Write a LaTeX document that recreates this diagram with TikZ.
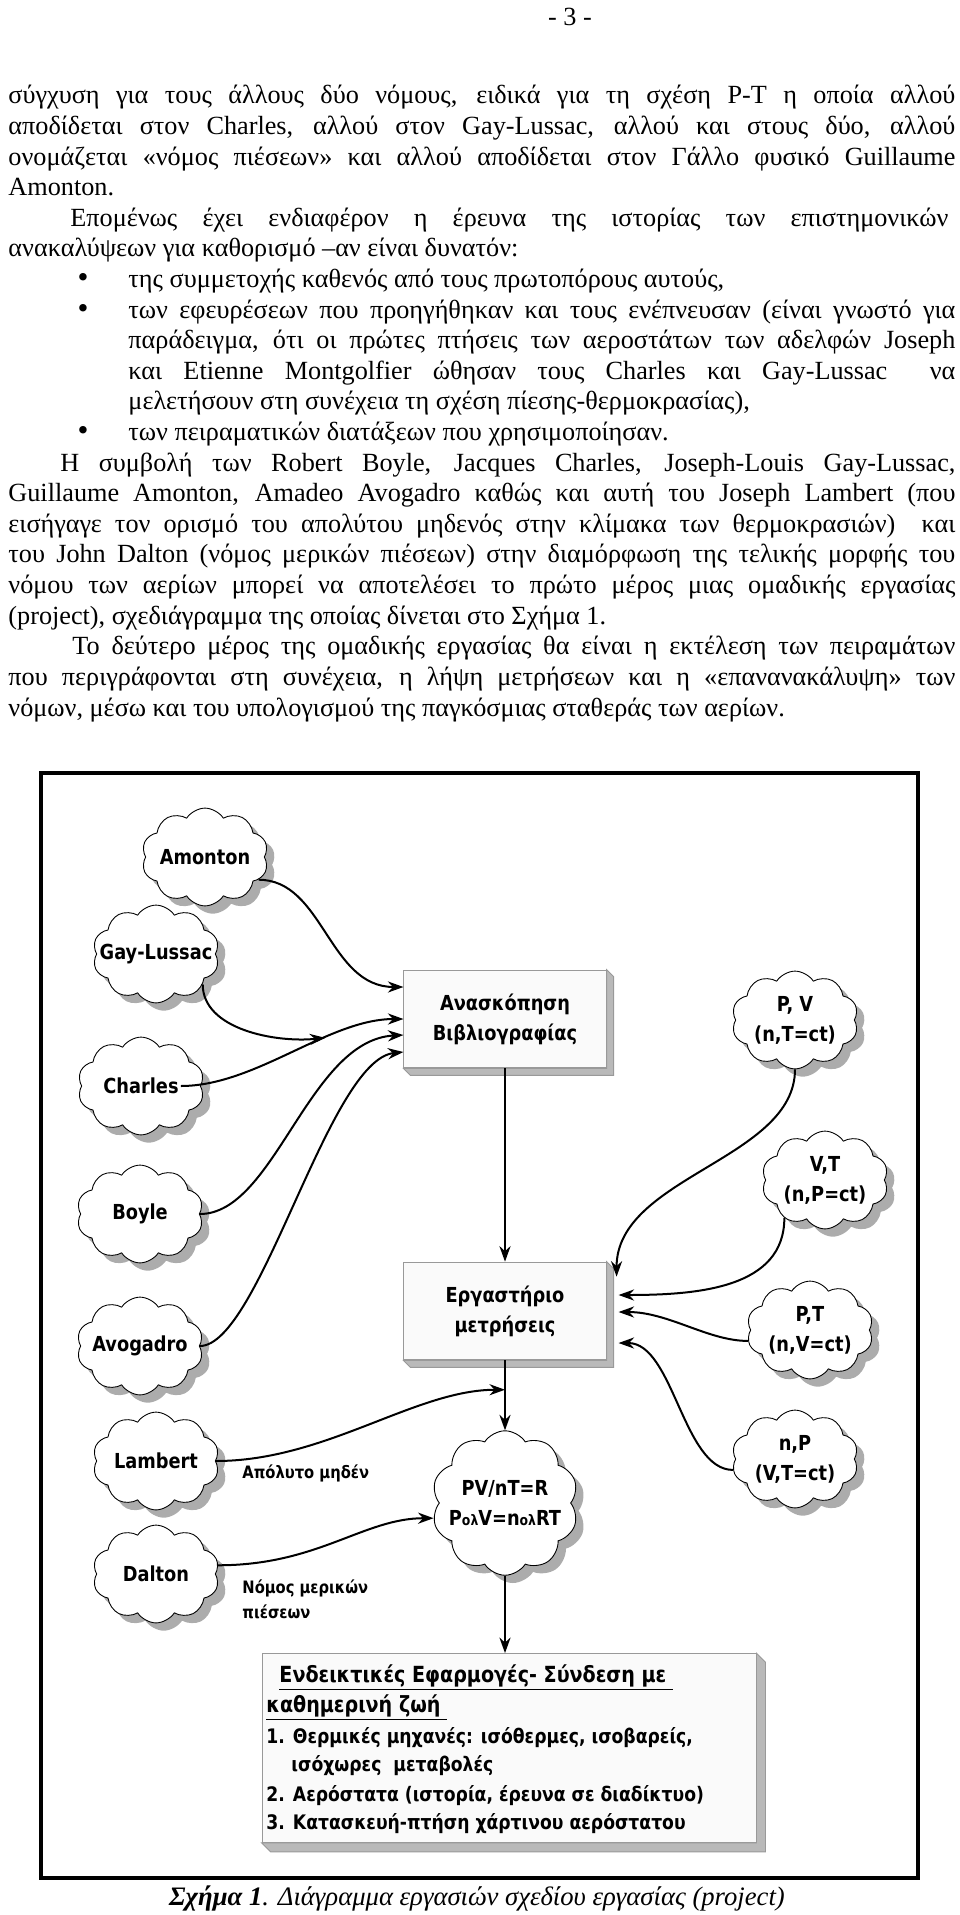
\documentclass[tikz,border=0pt]{standalone}
\usepackage{fontspec}
\setmainfont{Liberation Serif}
\newfontfamily\diagfont[FakeStretch=0.86]{DejaVu Sans}
\usetikzlibrary{shapes.symbols,shadows,calc,arrows.meta}
\newcommand\olsub{{\fontsize{6.5}{8}\selectfont ολ}}

\tikzset{
  txt/.style={anchor=base west,inner sep=0pt,font=\fontsize{11.8}{13}\selectfont},
  dot/.style={anchor=base,inner sep=0pt,font=\fontsize{14}{14}\selectfont},
  tag/.style={font=\diagfont\bfseries\fontsize{9.3}{13.5}\selectfont,align=center},
  item/.style={anchor=base west,inner sep=0pt,font=\diagfont\bfseries\fontsize{9}{12}\selectfont},
  head/.style={item,font=\diagfont\bfseries\fontsize{10}{12}\selectfont},
  small/.style={anchor=base west,inner sep=0pt,font=\diagfont\bfseries\fontsize{7.7}{11}\selectfont},
  puff/.style={cloud,cloud puffs=10,cloud puff arc=115,cloud ignores aspect,draw,fill=white,
    minimum width=57pt,minimum height=44pt,inner sep=0pt,
    drop shadow={shadow xshift=3.5pt,shadow yshift=-3.5pt,fill=gray!65,opacity=1}},
  panel/.style={draw=gray!80,fill=gray!4,minimum width=91pt,minimum height=44pt,inner sep=0pt,tag},
  link/.style={->,line width=0.9pt}
}

\begin{document}
\begin{tikzpicture}[x=0.45pt,y=-0.45pt,>={Stealth[length=7pt,width=5pt]}]
\useasboundingbox (0,0) rectangle (960,1915);

\node[font=\fontsize{11.8}{13}\selectfont] (page) at (570,17) {- 3 -};

\node[txt] (t1) at (8,104) {\makebox[426.15pt][s]{σύγχυση για τους άλλους δύο νόμους, ειδικά για τη σχέση P-T η οποία αλλού}};
\node[txt] (t2) at (8,134.6) {\makebox[426.15pt][s]{αποδίδεται στον Charles, αλλού στον Gay-Lussac, αλλού και στους δύο, αλλού}};
\node[txt] (t3) at (8,165.2) {\makebox[426.15pt][s]{ονομάζεται «νόμος πιέσεων» και αλλού αποδίδεται στον Γάλλο φυσικό Guillaume}};
\node[txt] (t4) at (8,195.8) {Amonton.};
\node[txt] (t5) at (70,226.4) {\makebox[395.1pt][s]{Επομένως έχει ενδιαφέρον η έρευνα της ιστορίας των επιστημονικών}};
\node[txt] (t6) at (8,257) {ανακαλύψεων για καθορισμό –αν είναι δυνατόν:};
\node[dot] (b1) at (83,287.6) {•};
\node[txt] (t7) at (128,287.6) {της συμμετοχής καθενός από τους πρωτοπόρους αυτούς,};
\node[dot] (b2) at (83,318.2) {•};
\node[txt] (t8) at (128,318.2) {\makebox[372.15pt][s]{των εφευρέσεων που προηγήθηκαν και τους ενέπνευσαν (είναι γνωστό για}};
\node[txt] (t9) at (128,348.8) {\makebox[372.15pt][s]{παράδειγμα, ότι οι πρώτες πτήσεις των αεροστάτων των αδελφών Joseph}};
\node[txt] (t10) at (128,379.4) {\makebox[372.15pt][s]{και Etienne Montgolfier ώθησαν τους Charles και Gay-Lussac \ να}};
\node[txt] (t11) at (128,410) {μελετήσουν στη συνέχεια τη σχέση πίεσης-θερμοκρασίας),};
\node[dot] (b3) at (83,440.6) {•};
\node[txt] (t12) at (128,440.6) {των πειραματικών διατάξεων που χρησιμοποίησαν.};
\node[txt] (t13) at (60,471.2) {\makebox[402.75pt][s]{Η συμβολή των Robert Boyle, Jacques Charles, Joseph-Louis Gay-Lussac,}};
\node[txt] (t14) at (8,501.8) {\makebox[426.15pt][s]{Guillaume Amonton, Amadeo Avogadro καθώς και αυτή του Joseph Lambert (που}};
\node[txt] (t15) at (8,532.4) {\makebox[426.15pt][s]{εισήγαγε τον ορισμό του απολύτου μηδενός στην κλίμακα των θερμοκρασιών) \ και}};
\node[txt] (t16) at (8,563) {\makebox[426.15pt][s]{του John Dalton (νόμος μερικών πιέσεων) στην διαμόρφωση της τελικής μορφής του}};
\node[txt] (t17) at (8,593.6) {\makebox[426.15pt][s]{νόμου των αερίων μπορεί να αποτελέσει το πρώτο μέρος μιας ομαδικής εργασίας}};
\node[txt] (t18) at (8,624.2) {(project), σχεδιάγραμμα της οποίας δίνεται στο Σχήμα 1.};
\node[txt] (t19) at (72,654.8) {\makebox[397.35pt][s]{Το δεύτερο μέρος της ομαδικής εργασίας θα είναι η εκτέλεση των πειραμάτων}};
\node[txt] (t20) at (8,685.4) {\makebox[426.15pt][s]{που περιγράφονται στη συνέχεια, η λήψη μετρήσεων και η «επανανακάλυψη» των}};
\node[txt] (t21) at (8,716) {νόμων, μέσω και του υπολογισμού της παγκόσμιας σταθεράς των αερίων.};

\draw[line width=2.2pt] (41,773) rectangle (918,1878);

\node[puff,label={[tag]center:Amonton}] (amonton) at (205,857) {};
\node[puff,label={[tag]center:Gay-Lussac}] (gaylussac) at (156,954) {};
\node[puff,label={[tag]center:Charles}] (charles) at (141,1086) {};
\node[puff,label={[tag]center:Boyle}] (boyle) at (140,1214) {};
\node[puff,label={[tag]center:Avogadro}] (avogadro) at (140,1346) {};
\node[puff,label={[tag]center:Lambert}] (lambert) at (156,1461) {};
\node[puff,label={[tag]center:Dalton}] (dalton) at (156,1574) {};

\node[puff,label={[tag]center:P, V\\(n,T=ct)}] (pv) at (795,1020) {};
\node[puff,label={[tag]center:V,T\\(n,P=ct)}] (vt) at (825,1180) {};
\node[puff,label={[tag]center:P,T\\(n,V=ct)}] (pt) at (810,1330) {};
\node[puff,label={[tag]center:n,P\\(V,T=ct)}] (np) at (795,1459) {};
\node[puff,minimum width=66pt,minimum height=65pt,
  label={[tag]center:PV/nT=R\\P\olsub V=n\olsub RT}] (pvnt) at (505,1503) {};

\node[panel] (rev) at (505,1019) {Ανασκόπηση\\Βιβλιογραφίας};
\node[panel] (lab) at (505,1311) {Εργαστήριο\\μετρήσεις};
\node[panel,minimum width=222.3pt,minimum height=85pt] (apps) at (509,1748) {};
\foreach \b/\d in {rev/7,lab/7,apps/9}
  \filldraw[fill=gray!55,draw=gray!80] (\b.north east) -- ++(\d,\d) -- ($(\b.south east)+(\d,\d)$)
    -- ($(\b.south west)+(\d,\d)$) -- (\b.south west) -- (\b.south east) -- cycle;

\node[head] (a1) at (279,1682) {\underline{Ενδεικτικές Εφαρμογές- Σύνδεση με\ }};
\node[head] (a2) at (266,1712) {\underline{καθημερινή ζωή\ }};
\node[item] (a3) at (266,1743) {1. Θερμικές μηχανές: ισόθερμες, ισοβαρείς,};
\node[item] (a4) at (291,1771) {ισόχωρες \ μεταβολές};
\node[item] (a5) at (266,1801) {2. Αερόστατα (ιστορία, έρευνα σε διαδίκτυο)};
\node[item] (a6) at (266,1829) {3. Κατασκευή-πτήση χάρτινου αερόστατου};

\node[small] (zero) at (242,1478) {Απόλυτο μηδέν};
\node[small] (partial) at (242,1593) {Νόμος μερικών};
\node[small] (partial2) at (242,1618) {πιέσεων};

\draw[link] (amonton.-23) .. controls +(65,0) and +(-75,0) .. ($(rev.west)+(0,-32)$);
\draw[link] ($(charles.east)+(-20,0)$) .. controls +(75,0) and +(-75,0) .. (rev.west) coordinate[pos=0.65] (merge);
\draw[link] (gaylussac.-33) .. controls +(0,45) and +(-50,5) .. (merge);
\draw[link] (boyle.east) .. controls +(75,0) and +(-95,5) .. ($(rev.west)+(0,16)$);
\draw[link] (avogadro.east) .. controls +(60,0) and +(-75,8) .. ($(rev.west)+(0,33)$);
\draw[link] (rev.south) -- (lab.north);
\draw[link] (pv.south) .. controls +(0,90) and +(0,-100) .. ($(lab.north east)+(10,15)$);
\draw[link] (vt.-137) .. controls +(0,70) and +(80,0) .. ($(lab.east)+(12,-16)$);
\draw[link] (pt.190) .. controls +(-40,0) and +(50,0) .. ($(lab.east)+(12,1)$);
\draw[link] (np.190) .. controls +(-50,0) and +(55,0) .. ($(lab.east)+(12,32)$);
\draw[link] (lab.south) -- (pvnt.north);
\coordinate (join) at ($(lab.south)!0.42!(pvnt.north)$);
\draw[link] (lambert.east) .. controls +(110,0) and +(-90,0) .. (join);
\draw[link] (dalton.8) .. controls +(100,0) and +(-70,0) .. (pvnt.192);
\draw[link] (pvnt.south) -- (pvnt.south |- apps.north);

\node[font=\fontsize{12}{14}\selectfont] (caption) at (477,1898)
  {\textbf{\textit{Σχήμα 1}}\textit{. Διάγραμμα εργασιών σχεδίου εργασίας (project)}};
\end{tikzpicture}
\end{document}
